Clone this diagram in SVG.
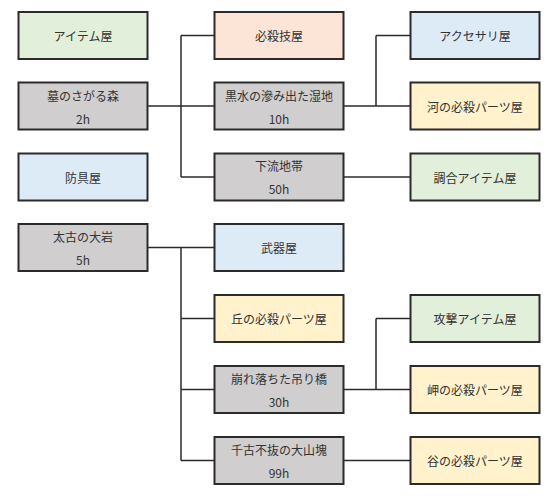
<svg xmlns="http://www.w3.org/2000/svg" width="560" height="499" viewBox="0 0 560 499">
<style>
.b{stroke:#2b2b2b;stroke-width:2}
.g{fill:#e2efda}.p{fill:#fce4d6}.bl{fill:#ddebf7}.y{fill:#fff2cc}.gr{fill:#d0cece}
text{font-family:"Noto Sans CJK JP","Noto Sans",sans-serif;font-size:12px;fill:#333;text-anchor:middle;dominant-baseline:central}
.c{fill:none;stroke:#2b2b2b;stroke-width:1.5}
</style>
<rect width="560" height="499" fill="#fff"/>
<g id="connectors">
<path class="c" d="M147.5,106H181M181,35.5V177M181,35.5H214M181,106H214M181,177H214"/>
<path class="c" d="M344,106H376M376,35.5V106M376,35.5H410.5M376,106H410.5"/>
<path class="c" d="M344,177H410.5"/>
<path class="c" d="M147.5,247.5H181M181,247.5V460.5M181,247.5H214M181,318.5H214M181,389.5H214M181,460.5H214"/>
<path class="c" d="M344,389.5H376M376,318.5V389.5M376,318.5H410.5M376,389.5H410.5"/>
<path class="c" d="M344,460.5H410.5"/>
</g>
<g id="n1"><rect class="b g" x="18.5" y="12" width="129" height="47"/><text x="83" y="35.5">アイテム屋</text></g>
<g id="n2"><rect class="b gr" x="18.5" y="82.5" width="129" height="47"/><text x="83" y="95">墓のさがる森</text><text x="83" y="118">2h</text></g>
<g id="n3"><rect class="b bl" x="18.5" y="153.5" width="129" height="47"/><text x="83" y="177">防具屋</text></g>
<g id="n4"><rect class="b p" x="214.5" y="12" width="129" height="47"/><text x="279" y="35.5">必殺技屋</text></g>
<g id="n5"><rect class="b gr" x="214.5" y="82.5" width="129" height="47"/><text x="279" y="95">黒水の滲み出た湿地</text><text x="279" y="118">10h</text></g>
<g id="n6"><rect class="b gr" x="214.5" y="153.5" width="129" height="47"/><text x="279" y="165.5">下流地帯</text><text x="279" y="188.5">50h</text></g>
<g id="n7"><rect class="b bl" x="410.5" y="12" width="129" height="47"/><text x="475" y="35.5">アクセサリ屋</text></g>
<g id="n8"><rect class="b y" x="410.5" y="82.5" width="129" height="47"/><text x="475" y="106">河の必殺パーツ屋</text></g>
<g id="n9"><rect class="b g" x="410.5" y="153.5" width="129" height="47"/><text x="475" y="177">調合アイテム屋</text></g>
<g id="n10"><rect class="b gr" x="18.5" y="224" width="129" height="47"/><text x="83" y="236.5">太古の大岩</text><text x="83" y="259.5">5h</text></g>
<g id="n11"><rect class="b bl" x="214.5" y="224" width="129" height="47"/><text x="279" y="247.5">武器屋</text></g>
<g id="n12"><rect class="b y" x="214.5" y="295" width="129" height="47"/><text x="279" y="318.5">丘の必殺パーツ屋</text></g>
<g id="n13"><rect class="b gr" x="214.5" y="366" width="129" height="47"/><text x="279" y="378.5">崩れ落ちた吊り橋</text><text x="279" y="401.5">30h</text></g>
<g id="n14"><rect class="b gr" x="214.5" y="437" width="129" height="47"/><text x="279" y="449.5">千古不抜の大山塊</text><text x="279" y="472.5">99h</text></g>
<g id="n15"><rect class="b g" x="410.5" y="295" width="129" height="47"/><text x="475" y="318.5">攻撃アイテム屋</text></g>
<g id="n16"><rect class="b y" x="410.5" y="366" width="129" height="47"/><text x="475" y="389.5">岬の必殺パーツ屋</text></g>
<g id="n17"><rect class="b y" x="410.5" y="437" width="129" height="47"/><text x="475" y="460.5">谷の必殺パーツ屋</text></g>
</svg>
